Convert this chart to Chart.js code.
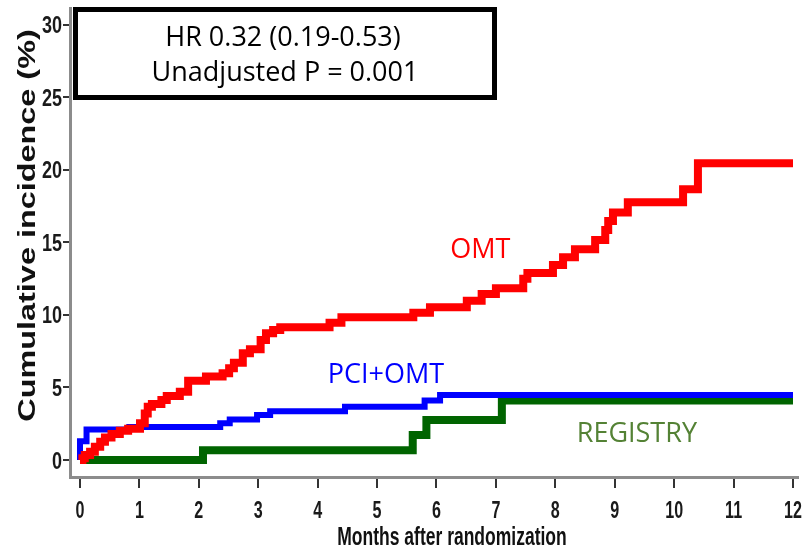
<!DOCTYPE html>
<html>
  <head>
    <title>
      Cumulative incidence
    </title>
    <script src="https://cdn.jsdelivr.net/npm/chart.js"></script>
    <style>
      body { margin: 0; background: #fff; }
    </style>
  </head>
  <body>
    <canvas id="myChart" width="805" height="551"></canvas>
    <script>
      'use strict'
      // Step times (months) and the cumulative incidence (%) each curve steps up to
      const omtMonths = [0, 0.04, 0.08, 0.17, 0.25, 0.34, 0.42, 0.53, 0.67, 0.81,
        1.01, 1.09, 1.14, 1.21, 1.37, 1.46, 1.68, 1.82, 2.12, 2.40, 2.51, 2.59, 2.74, 2.86,
        3.04, 3.13, 3.25, 3.37, 4.20, 4.40, 5.61, 5.89, 6.51, 6.76, 7.00, 7.46, 7.53, 7.96,
        8.13, 8.33, 8.67, 8.84, 8.89, 8.97, 9.22, 10.15, 10.40, 12];
      const omtValues = [0, 0.12, 0.34, 0.57, 0.92, 1.26, 1.56, 1.79, 2.02, 2.15,
        2.53, 3.2, 3.68, 3.86, 4.14, 4.41, 4.71, 5.47, 5.75, 5.98, 6.32, 6.71, 7.36, 7.63,
        8.28, 8.74, 8.97, 9.15, 9.47, 9.84, 10.16, 10.53, 10.99, 11.45, 11.84, 12.5, 12.9, 13.45,
        13.98, 14.53, 15.17, 15.86, 16.48, 17.06, 17.77, 18.67, 20.46, 20.46];

      const pciMonths = [0, 0, 0.11, 0.83, 2.36, 2.52, 2.98, 3.2, 4.46, 5.8, 6.06, 12];
      const pciValues = [0, 1.3, 2.1, 2.28, 2.53, 2.8, 3.1, 3.36, 3.68, 4.1, 4.48, 4.48];

      const registryMonths = [0, 2.07, 5.6, 5.83, 7.1, 12];
      const registryValues = [0, 0.67, 1.72, 2.76, 4.1, 4.1];

      const xTicks = [0, 1, 2, 3, 4, 5, 6, 7, 8, 9, 10, 11, 12];
      const yTicks = [0, 5, 10, 15, 20, 25, 30];

      const xTitle = 'Months after randomization';
      const yTitle = 'Cumulative incidence (%)';
      const statLines = ['HR 0.32 (0.19-0.53)', 'Unadjusted P = 0.001'];

      // curve names, placed in data units (left edge / baseline)
      const curveNames = [
        { text: 'OMT', month: 6.23, value: 13.93, color: '#ff0000' },
        { text: 'PCI+OMT', month: 4.17, value: 5.31, color: '#0000ff' },
        { text: 'REGISTRY', month: 8.36, value: 1.24, color: '#548235' },
      ];

      function toPoints(months, values) {
        return months.map((m, i) => ({ x: m, y: values[i] }));
      }

      // narrow bold text: no condensed face is installed, so squeeze a regular one
      function narrowText(ctx, text, x, y, sx, align) {
        ctx.save();
        ctx.translate(x, y);
        ctx.scale(sx, 1);
        ctx.textAlign = align;
        ctx.fillText(text, 0, 0);
        ctx.restore();
      }

      const overlay = {
        id: 'overlay',
        afterDraw(chart) {
          const ctx = chart.ctx;
          const xs = chart.scales.x;
          const ys = chart.scales.y;
          ctx.save();
          ctx.textBaseline = 'alphabetic';

          // tick labels, from the scales' own ticks
          ctx.fillStyle = '#1a1a1a';
          ctx.font = 'bold 23px "Liberation Sans", Arial, sans-serif';
          xs.ticks.forEach(t => narrowText(ctx, String(t.value), xs.getPixelForValue(t.value), 518, 0.70, 'center'));
          ctx.font = 'bold 24px "Liberation Sans", Arial, sans-serif';
          ys.ticks.forEach(t => narrowText(ctx, String(t.value), 62, ys.getPixelForValue(t.value) + 8.5, 0.75, 'right'));

          ctx.font = '27px "Open Sans", sans-serif';
          ctx.textAlign = 'left';
          curveNames.forEach(n => {
            ctx.fillStyle = n.color;
            ctx.fillText(n.text, xs.getPixelForValue(n.month), ys.getPixelForValue(n.value));
          });

          // hazard ratio box
          ctx.fillStyle = '#fff';
          ctx.fillRect(75.5, 9.5, 419, 88);
          ctx.lineWidth = 5;
          ctx.strokeStyle = '#000';
          ctx.strokeRect(75.5, 9.5, 419, 88);
          ctx.fillStyle = '#000';
          ctx.textAlign = 'center';
          ctx.fillText(statLines[0], 283, 46);
          ctx.fillText(statLines[1], 285, 81);

          // axis titles
          ctx.fillStyle = '#111';
          ctx.font = 'bold 25px "Liberation Sans", Arial, sans-serif';
          narrowText(ctx, xTitle, 452, 545, 0.70, 'center');

          ctx.font = 'bold 24px "Liberation Sans", Arial, sans-serif';
          ctx.save();
          ctx.translate(35, 225.5);
          ctx.rotate(-Math.PI / 2);
          ctx.scale(1.35, 1);
          ctx.textAlign = 'center';
          ctx.fillText(yTitle, 0, 0);
          ctx.restore();

          ctx.restore();
        }
      };

      const ctx = document.getElementById('myChart');

      new Chart(ctx, {
        type: 'line',
        data: {
          datasets: [{
            label: 'OMT',
            data: toPoints(omtMonths, omtValues),
            borderColor: '#ff0000',
            borderWidth: 8,
          }, {
            label: 'PCI+OMT',
            data: toPoints(pciMonths, pciValues),
            borderColor: '#0000ff',
            borderWidth: 6,
          }, {
            label: 'REGISTRY',
            data: toPoints(registryMonths, registryValues),
            borderColor: '#006400',
            borderWidth: 8,
          }]
        },
        options: {
          responsive: false,
          animation: false,
          layout: { padding: { top: 8, right: 7, left: 0, bottom: 0 } },
          elements: {
            point: { radius: 0 },
            line: { stepped: true, fill: false, tension: 0, borderCapStyle: 'butt', borderJoinStyle: 'miter' }
          },
          plugins: {
            legend: { display: false },
            tooltip: { enabled: false },
          },
          scales: {
            x: {
              type: 'linear',
              min: -0.1683,
              max: 12.0842,
              afterBuildTicks: scale => { scale.ticks = xTicks.map(v => ({ value: v })); },
              afterFit: scale => {
                scale.height = 74;
                scale.paddingLeft = 0;
                scale.paddingRight = 0;
              },
              border: { display: true, color: '#8c8c8c', width: 3 },
              grid: { display: true, drawOnChartArea: false, drawTicks: true, tickLength: 11, color: '#333', lineWidth: 2 },
              ticks: { display: false, autoSkip: false, maxRotation: 0 }
            },
            y: {
              min: -1.172,
              max: 31.17,
              afterBuildTicks: scale => { scale.ticks = yTicks.map(v => ({ value: v })); },
              afterFit: scale => {
                scale.width = 70;
                scale.paddingTop = 0;
                scale.paddingBottom = 0;
              },
              border: { display: true, color: '#8c8c8c', width: 3 },
              grid: { display: true, drawOnChartArea: false, drawTicks: true, tickLength: 7, color: '#333', lineWidth: 2 },
              ticks: { display: false }
            }
          }
        },
        plugins: [overlay]
      });
    </script>
  </body>
</html>
